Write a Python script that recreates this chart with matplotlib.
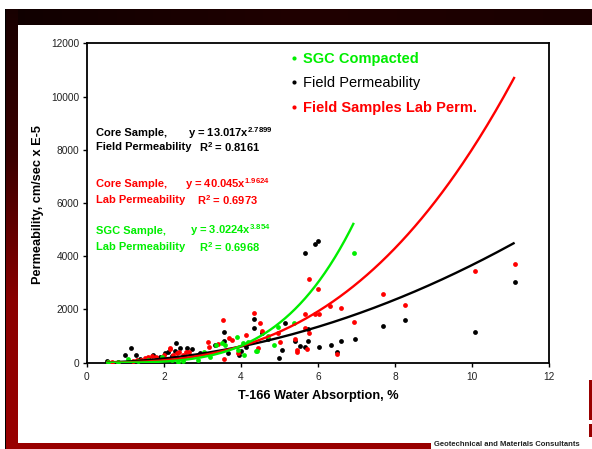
import numpy as np
import matplotlib
matplotlib.use("Agg")
import matplotlib.pyplot as plt
from matplotlib.lines import Line2D
from matplotlib.colors import LinearSegmentedColormap

plt.rcParams['font.family'] = ['Liberation Sans', 'DejaVu Sans']
plt.rcParams['mathtext.default'] = 'regular'

# ---------------- data ----------------
sgc_x = [0.55, 0.8, 1.08, 1.34, 1.6, 1.95, 2.2, 2.38, 2.5, 2.9, 3.03, 3.2, 3.35, 3.5,
         3.59, 3.89, 3.93, 4.06, 4.08, 4.19, 4.39, 4.41, 4.71, 4.86, 4.95, 5.39, 6.93]
sgc_y = [20, 40, 128, 75, 100, 226, 120, 38, 60, 100, 402, 203, 678, 728,
         665, 978, 477, 752, 290, 778, 440, 452, 1003, 665, 1354, 1505, 4110]

field_x = [0.53, 0.99, 1.15, 1.27, 1.39, 1.6, 1.73, 1.9, 2.03, 2.1, 2.2, 2.31, 2.3, 2.43,
           2.6, 2.74, 2.95, 3.33, 3.55, 3.55, 3.67, 3.95, 4.0, 4.12, 4.33, 4.33, 4.54,
           4.7, 4.99, 5.06, 5.14, 5.41, 5.54, 5.66, 5.66, 5.73, 5.75, 5.93, 5.99, 6.03,
           6.33, 6.49, 6.59, 6.95, 7.69, 8.26, 10.07, 11.1]
field_y = [75, 278, 540, 290, 128, 180, 290, 200, 352, 400, 250, 752, 450, 540,
           540, 503, 350, 665, 1154, 827, 352, 301, 450, 578, 1630, 1290, 1128,
           900, 188, 477, 1480, 827, 628, 578, 4134, 803, 1265, 4460, 4585, 603,
           677, 390, 803, 890, 1379, 1605, 1142, 3045]

lab_x = [0.55, 0.65, 0.8, 1.2, 1.3, 1.4, 1.51, 1.6, 1.7, 1.8, 2.0, 2.15, 2.16, 2.25,
         2.33, 2.4, 2.5, 2.58, 2.65, 3.15, 3.16, 3.41, 3.54, 3.56, 3.70, 3.78, 3.92,
         4.12, 4.33, 4.45, 4.5, 4.55, 4.97, 5.02, 5.40, 5.45, 5.46, 5.67, 5.72, 5.76,
         5.77, 5.66, 5.92, 6.0, 6.03, 6.31, 6.49, 6.59, 6.94, 7.69, 8.26, 10.07, 11.1]
lab_y = [20, 30, 40, 80, 120, 100, 165, 200, 250, 230, 300, 503, 540, 290,
         352, 420, 300, 390, 400, 778, 578, 703, 1605, 150, 928, 850, 377,
         1053, 1880, 560, 1480, 1200, 1104, 760, 880, 477, 402, 1315, 503, 1104,
         3134, 1818, 1818, 2782, 1818, 2130, 315, 2043, 1518, 2594, 2157, 3446, 3722]

# power-law trend lines as drawn (coefficient, exponent, x range)
green_fit = [3.0224, 3.854, 0.5, 6.93]
red_fit = [13.017, 2.7899, 0.5, 11.1]
black_fit = [40.045, 1.9624, 0.5, 11.1]

legend_labels = ['SGC Compacted', 'Field Permeability', 'Field Samples Lab Perm.']
x_ticks = [0, 2, 4, 6, 8, 10, 12]
y_ticks = [0, 2000, 4000, 6000, 8000, 10000, 12000]

GREEN = '#00ee00'
RED = '#ff0000'
BLACK = '#000000'

W, H = 592, 449
fig = plt.figure(figsize=(W / 100, H / 100), dpi=100)
fig.patch.set_facecolor('white')

def fx(px):
    return px / W

def fy(py):
    return 1 - py / H

# ---------------- decorative frame ----------------
bg = fig.add_axes([0, 0, 1, 1], zorder=-10)
bg.set_xlim(0, W)
bg.set_ylim(H, 0)
bg.axis('off')
grad_h = np.linspace(0, 1, 256).reshape(1, -1)
cm_top = LinearSegmentedColormap.from_list('t', ['#100000', '#200000', '#1a0000'])
bg.imshow(grad_h, extent=(5.5, W, 25, 9), cmap=cm_top, aspect='auto')
grad_v = np.linspace(0, 1, 256).reshape(-1, 1)
cm_left = LinearSegmentedColormap.from_list('l', ['#180000', '#3a0000', '#8a0000', '#990000'])
bg.imshow(grad_v, extent=(5.5, 17.5, H, 9), cmap=cm_left, aspect='auto', origin='upper')
bg.add_patch(plt.Rectangle((5, 9), 1.2, H - 9, color='#000000', lw=0))
bg.add_patch(plt.Rectangle((5.5, 443), 425, 6, color='#990000', lw=0))
bg.add_patch(plt.Rectangle((589, 380), 3, 40, color='#990000', lw=0))
bg.add_patch(plt.Rectangle((589, 424), 3, 13, color='#990000', lw=0))
fig.text(fx(434), fy(444.5), 'Geotechnical and Materials Consultants', fontsize=5.5,
         fontweight='bold', color='#222222', ha='left', va='center')

# ---------------- main axes ----------------
ax = fig.add_axes([fx(86.7), fy(362.7), (549.3 - 86.7) / W, (362.7 - 43.3) / H])
ax.set_facecolor('white')
ax.set_xlim(0, 12)
ax.set_ylim(0, 12000)
ax.set_xticks(x_ticks)
ax.set_yticks(y_ticks)
ax.tick_params(direction='out', length=3, width=1, labelsize=7.3, labelcolor='#222222',
               pad=2.5)
ax.tick_params(axis='x', pad=3.5)
for s in ax.spines.values():
    s.set_linewidth(1.3)
    s.set_color('black')

ms = 12
ax.scatter(field_x, field_y, s=ms, color=BLACK, linewidths=0, zorder=3)
ax.scatter(lab_x, lab_y, s=ms, color=RED, linewidths=0, zorder=3)
ax.scatter(sgc_x, sgc_y, s=ms, color=GREEN, linewidths=0, zorder=3)

for (a, b, x0, x1), c in [(black_fit, BLACK), (red_fit, RED), (green_fit, GREEN)]:
    xx = np.linspace(x0, x1, 300)
    ax.plot(xx, a * xx ** b, color=c, lw=1.7, zorder=4, solid_capstyle='butt')

handles = [Line2D([], [], marker='o', ls='none', color=c, markersize=3, markeredgewidth=0)
           for c in (GREEN, BLACK, RED)]
leg = ax.legend(handles, legend_labels, loc='upper left',
                bbox_to_anchor=((290 - 86.7) / 462.6, (362.7 - 52) / 319.4),
                frameon=False, fontsize=10.5, handlelength=0.6, handletextpad=0.3,
                labelspacing=0.72, borderpad=0, borderaxespad=0)
for t, c, w in zip(leg.get_texts(), (GREEN, BLACK, RED), ('bold', 'normal', 'bold')):
    t.set_color(c)
    t.set_fontweight(w)

fig.text(fx(318), fy(396), 'T-166 Water Absorption, %', fontsize=9.2, fontweight='bold',
         ha='center', va='center')
fig.text(fx(38), fy(205), 'Permeability, cm/sec x E-5', fontsize=9.2, fontweight='bold',
         ha='center', va='center', rotation=90)

# ---------------- equation annotations ----------------
ann = [
    (BLACK, 133, 146.7, 'Core Sample,', 'y = 13.017x$^{2.7899}$', 188,
     'Field Permeability', 'R$^2$ = 0.8161', 199),
    (RED, 184, 200, 'Core Sample,', 'y = 40.045x$^{1.9624}$', 185,
     'Lab Permeability', 'R$^2$ = 0.6973', 197),
    (GREEN, 230.5, 246.7, 'SGC Sample,', 'y = 3.0224x$^{3.854}$', 190,
     'Lab Permeability', 'R$^2$ = 0.6968', 199),
]
for c, y1, y2, t1, e1, xe, t2, e2, xr in ann:
    kw = dict(fontsize=8, fontweight='bold', color=c, ha='left', va='center')
    fig.text(fx(96), fy(y1), t1, **kw)
    fig.text(fx(xe), fy(y1), e1, **kw)
    fig.text(fx(96), fy(y2), t2, **kw)
    fig.text(fx(xr), fy(y2), e2, **kw)

fig.savefig('out.png', dpi=100)
